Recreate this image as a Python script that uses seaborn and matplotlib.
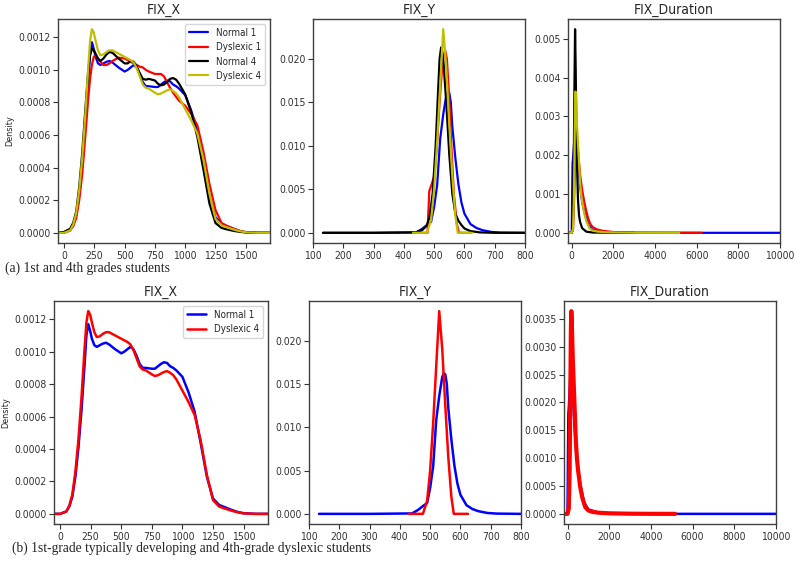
import pandas as pd
import matplotlib.pyplot as plt
import seaborn as sns

# ---- FIX_X densities (values x 1e-4) ----
fixx_x = [-50, 0, 50, 75, 100, 125, 150, 175, 200, 215, 230, 245, 260, 280, 300, 325, 350,
          375, 400, 450, 500, 525, 550, 575, 600, 625, 650, 675, 700, 750, 775, 800, 825,
          850, 875, 900, 925, 950, 1000, 1050, 1100, 1150, 1200, 1250, 1300, 1350, 1400,
          1450, 1500, 1600, 1700]
fixx_normal1 = [0, 0, 0.14, 0.45, 1.06, 2.3, 4.1, 6.4, 9.2, 11.0, 11.7, 11.3, 10.8, 10.4,
                10.3, 10.4, 10.5, 10.55, 10.45, 10.15, 9.9, 10.0, 10.15, 10.3, 10.15, 9.75,
                9.25, 9.0, 9.0, 8.95, 8.95, 9.1, 9.25, 9.35, 9.3, 9.1, 9.0, 8.85, 8.45, 7.5,
                6.3, 4.35, 2.3, 0.95, 0.55, 0.4, 0.25, 0.12, 0.04, 0, 0]
fixx_dyslexic1 = [0, 0.05, 0.2, 0.4, 0.9, 2.0, 3.6, 5.9, 8.3, 9.5, 10.3, 10.8, 10.9, 10.7,
                  10.5, 10.3, 10.3, 10.4, 10.55, 10.75, 10.7, 10.6, 10.5, 10.4, 10.3, 10.2,
                  10.15, 10.0, 9.9, 9.75, 9.75, 9.75, 9.6, 9.25, 8.9, 8.6, 8.35, 8.1, 7.8,
                  7.3, 6.6, 5.0, 3.0, 1.4, 0.6, 0.4, 0.25, 0.12, 0.04, 0, 0]
fixx_normal4 = [0, 0.05, 0.25, 0.6, 1.3, 2.8, 4.9, 7.5, 10.0, 10.9, 11.3, 11.2, 11.0, 10.7,
                10.55, 10.7, 10.95, 11.1, 11.05, 10.7, 10.4, 10.4, 10.55, 10.5, 10.2, 9.8,
                9.45, 9.4, 9.45, 9.35, 9.15, 9.05, 9.1, 9.25, 9.45, 9.5, 9.4, 9.15, 8.5, 7.4,
                5.9, 3.9, 1.8, 0.6, 0.3, 0.2, 0.12, 0.06, 0.02, 0, 0]
fixx_dyslexic4 = [0, 0, 0.15, 0.5, 1.2, 2.6, 4.6, 7.2, 10.2, 11.8, 12.5, 12.3, 11.8, 11.2,
                  10.9, 10.95, 11.1, 11.2, 11.2, 11.0, 10.8, 10.7, 10.6, 10.45, 10.1, 9.6,
                  9.1, 8.9, 8.85, 8.6, 8.5, 8.55, 8.65, 8.75, 8.8, 8.7, 8.55, 8.3, 7.6, 6.9,
                  6.1, 4.5, 2.4, 0.85, 0.45, 0.32, 0.2, 0.1, 0.03, 0, 0]

# ---- FIX_Y densities (values x 1e-3) ----
fixy_normal1_x = [133, 300, 440, 460, 480, 490, 500, 510, 520, 530, 540, 545, 550, 555, 560,
                  570, 580, 590, 600, 620, 640, 660, 690, 720, 800]
fixy_normal1 = [0, 0, 0.05, 0.45, 1.0, 1.25, 3.0, 5.5, 10.8, 13.6, 15.8, 16.2, 16.1, 15.0,
                12.2, 8.6, 5.6, 3.5, 2.2, 1.0, 0.55, 0.3, 0.1, 0.03, 0]
fixy_dyslexic1_x = [430, 478, 484, 492, 500, 508, 518, 528, 536, 542, 548, 556, 565, 575, 582, 620]
fixy_dyslexic1 = [0, 0, 4.8, 5.6, 6.5, 9.5, 15.0, 19.8, 21.0, 20.0, 16.5, 10.5, 4.5, 1.0, 0, 0]
fixy_normal4_x = [133, 300, 440, 460, 475, 485, 495, 505, 512, 518, 523, 530, 540, 550, 560,
                  570, 580, 590, 600, 620, 650, 700, 800]
fixy_normal4 = [0, 0, 0.05, 0.3, 0.8, 1.8, 4.5, 10.0, 15.5, 20.0, 21.3, 20.0, 15.0, 9.0, 4.5,
                2.2, 1.4, 0.9, 0.5, 0.2, 0.05, 0, 0]
fixy_dyslexic4_x = [430, 476, 490, 500, 510, 520, 530, 540, 550, 560, 570, 578, 625]
fixy_dyslexic4 = [0, 0, 1.5, 5.0, 10.5, 17.0, 23.4, 19.0, 12.5, 6.5, 2.0, 0, 0]

# ---- FIX_Duration densities (values x 1e-3) ----
dur_normal1_x = [-180, 0, 20, 40, 60, 100, 150, 200, 250, 300, 400, 500, 600, 800, 1000,
                 1500, 2000, 3000, 5000, 10000]
dur_normal1 = [0, 0, 1.0, 1.8, 1.9, 2.2, 2.6, 2.7, 2.4, 1.8, 1.2, 0.8, 0.55, 0.2, 0.08,
               0.02, 0.008, 0.002, 0, 0]
dur_dyslexic1_x = [-180, 0, 60, 100, 150, 200, 240, 300, 400, 500, 600, 700, 800, 900, 1000,
                   1200, 1500, 2000, 3000, 4000, 6240]
dur_dyslexic1 = [0, 0, 0.1, 0.6, 1.6, 2.3, 2.4, 2.1, 1.5, 1.1, 0.8, 0.55, 0.35, 0.22, 0.15,
                 0.09, 0.05, 0.02, 0.005, 0.002, 0]
dur_normal4_x = [-180, 0, 30, 60, 100, 130, 160, 190, 220, 250, 300, 350, 400, 500, 700,
                 1000, 2000, 3000]
dur_normal4 = [0, 0, 0.05, 0.5, 2.0, 3.8, 5.25, 4.2, 2.8, 1.8, 0.85, 0.45, 0.28, 0.12, 0.03,
               0.008, 0, 0]
dur_dyslexic4_x = [-190, 0, 60, 100, 130, 160, 180, 200, 250, 300, 400, 450, 500, 600, 700,
                   850, 1000, 1200, 1500, 2000, 3000, 4000, 5160]
dur_dyslexic4 = [0, 0, 0.1, 0.8, 2.0, 3.3, 3.64, 3.5, 2.8, 2.3, 1.3, 1.0, 0.8, 0.5, 0.3,
                 0.12, 0.06, 0.035, 0.02, 0.01, 0.003, 0.001, 0]

# tick positions
fixx_ticks = [0, 250, 500, 750, 1000, 1250, 1500]
fixy_ticks = [100, 200, 300, 400, 500, 600, 700, 800]
dur_ticks = [0, 2000, 4000, 6000, 8000, 10000]

colors = {'Normal 1': '#0000ff', 'Dyslexic 1': '#ff0000',
          'Normal 4': '#000000', 'Dyslexic 4': '#bfbf00'}


def make_df(curves, scale):
    frames = []
    for name, (xs, ys) in curves.items():
        frames.append(pd.DataFrame({'x': xs, 'density': [v * scale for v in ys],
                                    'series': name}))
    return pd.concat(frames, ignore_index=True)


sns.set_theme(style='ticks', rc={'axes.edgecolor': '.25', 'xtick.color': '.2',
                                 'ytick.color': '.2', 'axes.linewidth': 1.0})
plt.rcParams['font.family'] = ['DejaVu Sans']
plt.rcParams['font.stretch'] = 'condensed'

fig = plt.figure(figsize=(7.97, 5.68), dpi=100)

W = 212 / 797
top_b, top_h = 1 - 243 / 568, 224 / 568
bot_b, bot_h = 1 - 524 / 568, 223 / 568

axes_top = [fig.add_axes([58 / 797, top_b, W, top_h]),
            fig.add_axes([313 / 797, top_b, W, top_h]),
            fig.add_axes([568 / 797, top_b, W, top_h])]
axes_bot = [fig.add_axes([54 / 797, bot_b, 214 / 797, bot_h]),
            fig.add_axes([309 / 797, bot_b, W, bot_h]),
            fig.add_axes([564 / 797, bot_b, W, bot_h])]

# top row: all four groups
top_data = [
    make_df({'Normal 1': (fixx_x, fixx_normal1), 'Dyslexic 1': (fixx_x, fixx_dyslexic1),
             'Normal 4': (fixx_x, fixx_normal4), 'Dyslexic 4': (fixx_x, fixx_dyslexic4)}, 1e-4),
    make_df({'Normal 1': (fixy_normal1_x, fixy_normal1),
             'Dyslexic 1': (fixy_dyslexic1_x, fixy_dyslexic1),
             'Normal 4': (fixy_normal4_x, fixy_normal4),
             'Dyslexic 4': (fixy_dyslexic4_x, fixy_dyslexic4)}, 1e-3),
    make_df({'Normal 1': (dur_normal1_x, dur_normal1),
             'Dyslexic 1': (dur_dyslexic1_x, dur_dyslexic1),
             'Normal 4': (dur_normal4_x, dur_normal4),
             'Dyslexic 4': (dur_dyslexic4_x, dur_dyslexic4)}, 1e-3),
]
# bottom row: 1st-grade normal vs 4th-grade dyslexic (drawn red)
bot_data = [
    make_df({'Normal 1': (fixx_x, fixx_normal1), 'Dyslexic 4': (fixx_x, fixx_dyslexic4)}, 1e-4),
    make_df({'Normal 1': (fixy_normal1_x, fixy_normal1),
             'Dyslexic 4': (fixy_dyslexic4_x, fixy_dyslexic4)}, 1e-3),
    make_df({'Normal 1': (dur_normal1_x, dur_normal1),
             'Dyslexic 4': (dur_dyslexic4_x, dur_dyslexic4)}, 1e-3),
]

titles = ['FIX_X', 'FIX_Y', 'FIX_Duration']
xticks = [fixx_ticks, fixy_ticks, dur_ticks]
xlims_top = [(-50, 1700), (100, 800), (-180, 10000)]
xlims_bot = [(-50, 1700), (100, 800), (-170, 10000)]
order4 = ['Normal 1', 'Dyslexic 1', 'Normal 4', 'Dyslexic 4']
order2 = ['Normal 1', 'Dyslexic 4']
bot_pal = {'Normal 1': '#0000ff', 'Dyslexic 4': '#ff0000'}

for i, ax in enumerate(axes_top):
    sns.lineplot(data=top_data[i], x='x', y='density', hue='series', hue_order=order4,
                 palette=colors, estimator=None, sort=False, lw=1.6, ax=ax,
                 legend=(i == 0))
    ax.set_xticks(xticks[i])
    ax.set_xlim(*xlims_top[i])

for i, ax in enumerate(axes_bot):
    sns.lineplot(data=bot_data[i], x='x', y='density', hue='series', hue_order=order2,
                 palette=bot_pal, estimator=None, sort=False,
                 lw=1.8, ax=ax, legend=(i == 0))
    ax.set_xticks(xticks[i])
    ax.set_xlim(*xlims_bot[i])
# the dyslexic curve in the duration panel is drawn thicker
axes_bot[2].lines[-1].set_linewidth(3.0)

for row in (axes_top, axes_bot):
    for i, ax in enumerate(row):
        ax.set_title(titles[i], fontsize=10, pad=4)
        ax.set_xlabel('')
        ax.set_ylabel('Density' if i == 0 else '', fontsize=6.5, labelpad=3)
        ax.tick_params(labelsize=7.5, length=3.5, width=0.8, pad=2)
        ax.margins(y=0.05)
    sns.move_legend(row[0], 'upper right', title=None, fontsize=7, frameon=True,
                    handlelength=2.0, borderpad=0.4, labelspacing=0.45)

axes_bot[2].set_yticks([0, 0.0005, 0.0010, 0.0015, 0.0020, 0.0025, 0.0030, 0.0035])

fig.text(5 / 797, 1 - 268 / 568, '(a) 1st and 4th grades students', fontsize=9.75,
         family='Liberation Serif', stretch='normal', va='center', ha='left')
fig.text(12 / 797, 1 - 548 / 568,
         '(b) 1st-grade typically developing and 4th-grade dyslexic students',
         fontsize=9.75, family='Liberation Serif', stretch='normal', va='center', ha='left')

fig.savefig('out.png', dpi=100)
